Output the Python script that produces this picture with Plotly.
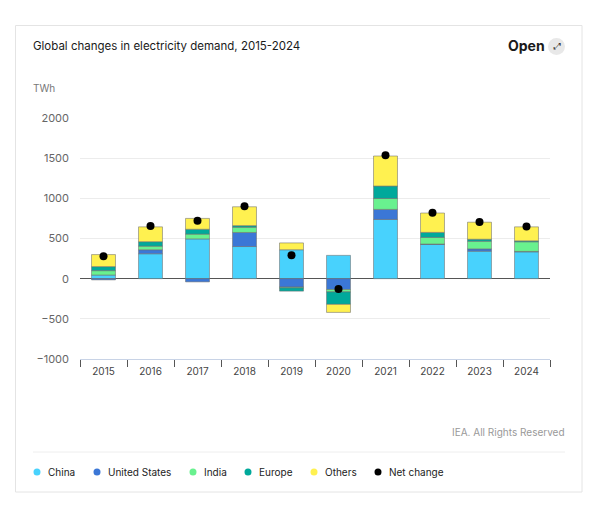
import plotly.graph_objects as go

years = ["2015", "2016", "2017", "2018", "2019", "2020", "2021", "2022", "2023", "2024"]
china = [45, 310, 495, 400, 360, 290, 737, 426, 342, 334]
united_states = [-15, 50, -40, 175, -105, -135, 125, 5, 29, 5]
india = [55, 45, 60, 65, -10, -30, 137, 83, 95, 120]
europe = [50, 55, 60, 20, -40, -155, 154, 62, 25, 12]
others = [150, 185, 135, 235, 85, -100, 374, 241, 212, 174]
net_change = [280, 655, 720, 900, 290, -130, 1535, 820, 705, 650]

legend_names = ["China", "United States", "India", "Europe", "Others", "Net change"]
legend_colors = ["#48d2fd", "#3b77d6", "#69f18f", "#00a99b", "#fff150", "black"]

fig = go.Figure()
for name, vals, col in zip(legend_names[:5], [china, united_states, india, europe, others], legend_colors[:5]):
    fig.add_trace(go.Bar(
        x=years, y=vals, name=name,
        marker=dict(color=col, line=dict(color="rgba(110,110,110,0.55)", width=1)),
        width=0.51, showlegend=False,
    ))
fig.add_trace(go.Scatter(
    x=years, y=net_change, mode="markers", name="Net change",
    marker=dict(color="black", size=8), showlegend=False,
))

L, R, T, B = 80, 550, 118, 359
def px(x):
    return (x - L) / (R - L)
def py(y):
    return (B - y) / (B - T)

shapes = [
    dict(type="rect", xref="paper", yref="paper", x0=px(15.5), x1=px(582), y0=py(25.5), y1=py(492),
         line=dict(color="#e4e4e4", width=1), fillcolor="rgba(0,0,0,0)", layer="below"),
    dict(type="line", xref="paper", yref="paper", x0=px(33), x1=px(565), y0=py(452), y1=py(452),
         line=dict(color="#eeeeee", width=1)),
    dict(type="circle", xref="paper", yref="paper", x0=px(548), x1=px(565), y0=py(38), y1=py(55),
         fillcolor="#e8e8e8", line=dict(width=0)),
]
annotations = [
    dict(text="Global changes in electricity demand, 2015-2024", xref="paper", yref="paper",
         x=px(31), y=py(46), xanchor="left", yanchor="middle", showarrow=False,
         font=dict(size=11.5, color="#1a1a1a")),
    dict(text="<b>Open</b>", xref="paper", yref="paper", x=px(547), y=py(46), xanchor="right",
         yanchor="middle", showarrow=False, font=dict(size=14, color="#1a1a1a")),
    dict(text="⤢", xref="paper", yref="paper", x=px(556.5), y=py(46.5), xanchor="center",
         yanchor="middle", showarrow=False, font=dict(size=9, color="#333", family="DejaVu Sans")),
    dict(text="TWh", xref="paper", yref="paper", x=px(31), y=py(88), xanchor="left",
         yanchor="middle", showarrow=False, font=dict(size=10, color="#777")),
    dict(text="IEA. All Rights Reserved", xref="paper", yref="paper", x=px(567), y=py(432),
         xanchor="right", yanchor="middle", showarrow=False, font=dict(size=10, color="#999")),
]

# manual legend (circle dot + label)
legend_x = [37, 97, 193, 248, 314, 378]
ly = 472
for name, col, lx in zip(legend_names, legend_colors, legend_x):
    shapes.append(dict(type="circle", xref="paper", yref="paper",
                       x0=px(lx - 3.5), x1=px(lx + 3.5), y0=py(ly - 3.5), y1=py(ly + 3.5),
                       fillcolor=col, line=dict(width=0)))
    annotations.append(dict(text=name, xref="paper", yref="paper", x=px(lx + 9), y=py(ly),
                            xanchor="left", yanchor="middle", showarrow=False,
                            font=dict(size=10, color="#222")))

fig.update_layout(
    width=600, height=505,
    margin=dict(l=L, r=600 - R, t=T, b=505 - B),
    paper_bgcolor="white", plot_bgcolor="white",
    barmode="relative", bargap=0.5,
    font=dict(family="Inter, Noto Sans, sans-serif", color="#333"),
    showlegend=False,
    xaxis=dict(range=[-0.5, 9.5], showgrid=False, ticks="outside", tickson="boundaries", ticklen=7,
               tickcolor="#555", showline=True, linecolor="#c8d3e6", linewidth=1,
               tickfont=dict(size=10, color="#444"), ticklabelstandoff=3, automargin=False),
    yaxis=dict(range=[-1000, 2000], dtick=500, showgrid=True, gridcolor="#ececec",
               zeroline=True, zerolinecolor="#555", zerolinewidth=1,
               tickfont=dict(size=11, color="#666"), ticklabelstandoff=10, automargin=False),
    shapes=shapes,
    annotations=annotations,
)

fig.write_html("out.html", config={"displayModeBar": False})
with open("out.html", "r", encoding="utf-8") as f:
    html = f.read()
html = html.replace("<body>", '<body style="margin:0">', 1)
with open("out.html", "w", encoding="utf-8") as f:
    f.write(html)
